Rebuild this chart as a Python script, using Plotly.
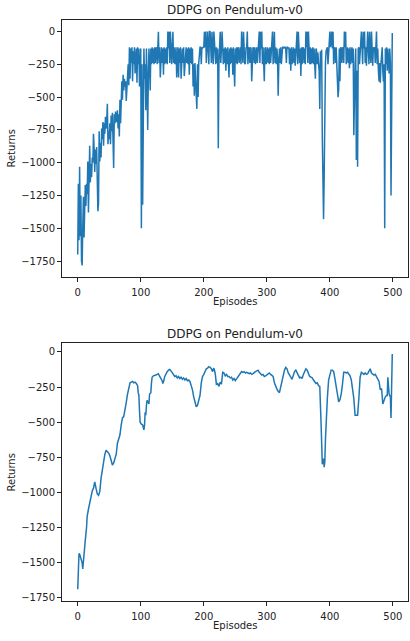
import plotly.graph_objects as go

# Raw returns per episode.
returns = [
    -1700, -1160, -1590, -1030, -1560, -1250, -1750, -1783, -1490, -1260,
    -1570, -1420, -1170, -1330, -1160, -1240, -990, -1380, -1050, -870,
    -1150, -1010, -1110, -960, -1000, -780, -890, -1070, -900, -1010,
    -880, -1060, -1370, -1310, -760, -990, -850, -960, -740, -820,
    -690, -870, -700, -780, -650, -740, -690, -550, -860, -760,
    -820, -700, -860, -640, -760, -620, -880, -1040, -630, -700,
    -610, -690, -660, -600, -740, -630, -800, -520, -700, -460,
    -380, -520, -330, -450, -360, -420, -380, -530, -400, -350,
    -250, -410, -120, -360, -130, -240, -120, -380, -150, -250,
    -120, -320, -250, -130, -390, -120, -250, -130, -420, -250,
    -130, -1500, -250, -1320, -250, -130, -360, -250, -600, -130,
    -350, -750, -360, -130, -250, -450, -130, -250, -120, -240,
    -130, -250, -120, -240, -130, -120, -250, -130, -2, -240,
    -120, -350, -250, -120, -240, -130, -330, -120, -250, -130,
    -240, -120, -250, -1, -130, -3, -240, -1, -120, -250,
    -130, -2, -240, -120, -250, -130, -120, -350, -250, -120,
    -350, -130, -240, -120, -360, -250, -130, -240, -120, -340,
    -250, -130, -120, -240, -130, -250, -120, -330, -130, -240,
    -120, -250, -130, -420, -250, -490, -240, -380, -480, -590,
    -250, -500, -240, -130, -120, -120, -250, -120, -130, -120,
    -120, -2, -120, -1, -240, -130, -1, -120, -250, -1,
    -3, -120, -240, -2, -130, -250, -1, -120, -130, -250,
    -120, -240, -130, -890, -250, -120, -2, -240, -130, -1,
    -120, -250, -130, -240, -120, -300, -130, -250, -120, -240,
    -350, -130, -250, -120, -240, -130, -330, -120, -250, -420,
    -130, -240, -120, -250, -130, -120, -240, -130, -120, -250,
    -1, -120, -240, -2, -130, -250, -240, -120, -130, -1,
    -250, -120, -130, -240, -120, -130, -380, -250, -120, -130,
    -240, -120, -250, -130, -120, -240, -130, -120, -1, -240,
    -2, -130, -1, -250, -120, -240, -380, -130, -120, -250,
    -130, -120, -240, -130, -250, -120, -240, -130, -120, -1,
    -250, -130, -2, -240, -120, -250, -130, -200, -490, -250,
    -130, -240, -120, -250, -130, -120, -120, -130, -120, -120,
    -130, -240, -120, -120, -130, -120, -250, -130, -300, -120,
    -250, -130, -120, -240, -130, -260, -120, -130, -1, -250,
    -2, -120, -240, -130, -340, -120, -250, -130, -120, -240,
    -130, -250, -1, -120, -2, -240, -1, -130, -250, -120,
    -250, -130, -240, -120, -250, -130, -240, -360, -130, -150,
    -250, -160, -240, -300, -590, -150, -250, -140, -800, -1200,
    -1430, -1100, -505, -240, -150, -130, -120, -250, -120, -130,
    -1, -120, -2, -1, -130, -3, -250, -120, -130, -240,
    -120, -250, -400, -500, -440, -130, -380, -120, -130, -240,
    -120, -130, -240, -1, -120, -2, -250, -130, -120, -240,
    -130, -280, -120, -250, -130, -120, -240, -130, -790, -250,
    -250, -130, -980, -300, -1030, -130, -120, -250, -130, -120,
    -1, -120, -250, -2, -130, -1, -240, -120, -260, -130,
    -1, -120, -250, -2, -130, -240, -1, -120, -260, -120,
    -130, -120, -240, -120, -1, -250, -130, -300, -380, -240,
    -390, -250, -130, -120, -300, -380, -250, -1500, -130, -250,
    -120, -300, -130, -250, -320, -130, -240, -1250, -130, -12,
]
episodes = list(range(len(returns)))

# Smoothed returns.
smooth_episodes = [
    0, 1, 2, 3, 5, 7, 8, 9, 10, 12, 14, 15, 17, 19, 21, 23, 25, 27, 29, 31,
    33, 35, 37, 39, 41, 43, 45, 47, 49, 51, 53, 55, 57, 59, 61, 63, 65, 67, 69, 71,
    73, 75, 77, 79, 81, 83, 85, 87, 89, 91, 93, 95, 96, 97, 98, 99, 101, 103, 105, 106,
    107, 108, 109, 110, 112, 113, 114, 116, 117, 118, 120, 122, 124, 126, 128, 130, 132, 134, 135, 136,
    138, 140, 142, 144, 146, 148, 150, 152, 154, 156, 158, 160, 162, 164, 166, 168, 170, 172, 174, 176,
    178, 180, 182, 184, 186, 188, 190, 192, 194, 196, 198, 200, 202, 204, 206, 208, 210, 212, 214, 216,
    218, 220, 222, 224, 226, 228, 230, 232, 234, 236, 238, 240, 242, 244, 246, 248, 250, 252, 254, 256,
    258, 260, 262, 264, 266, 268, 270, 272, 274, 276, 278, 280, 282, 284, 286, 288, 290, 292, 294, 296,
    298, 300, 302, 304, 306, 308, 310, 312, 314, 316, 318, 320, 322, 324, 326, 328, 330, 332, 334, 336,
    338, 340, 342, 344, 346, 348, 350, 352, 354, 356, 358, 360, 362, 364, 366, 368, 370, 372, 374, 376,
    378, 380, 382, 384, 385, 386, 388, 390, 391, 392, 393, 394, 396, 398, 400, 402, 404, 406, 408, 410,
    412, 414, 416, 418, 420, 422, 424, 426, 428, 430, 432, 434, 436, 438, 440, 442, 444, 446, 448, 450,
    452, 454, 456, 458, 460, 462, 464, 466, 468, 470, 472, 474, 476, 478, 480, 482, 484, 486, 488, 490,
    491, 492, 493, 494, 496, 497, 499,
]
smooth_returns = [
    -1690, -1540, -1435, -1440, -1470, -1500, -1545, -1480, -1440, -1340, -1250, -1170, -1120, -1070, -1050, -990, -970, -925, -970, -1010,
    -1020, -995, -900, -830, -800, -730, -700, -710, -720, -740, -770, -805, -790, -760, -730, -650, -610, -590, -520, -470,
    -460, -390, -360, -300, -250, -220, -215, -210, -220, -215, -225, -240, -290, -310, -420, -500, -515, -520, -555, -520,
    -430, -450, -380, -345, -360, -370, -300, -290, -220, -180, -170, -170, -165, -160, -155, -175, -190, -205, -225, -215,
    -175, -155, -140, -130, -125, -135, -150, -160, -175, -170, -185, -175, -190, -180, -195, -185, -200, -190, -205, -200,
    -210, -240, -270, -320, -350, -390, -380, -340, -310, -220, -175, -160, -140, -120, -115, -105, -110, -120, -140, -115,
    -150, -230, -225, -245, -215, -230, -145, -150, -170, -160, -175, -175, -185, -180, -200, -190, -205, -190, -180, -170,
    -150, -140, -145, -140, -150, -145, -150, -155, -150, -160, -155, -145, -140, -135, -130, -145, -155, -165, -160, -175,
    -170, -165, -155, -150, -160, -170, -175, -220, -250, -265, -280, -290, -250, -200, -160, -130, -110, -120, -150, -170,
    -180, -195, -160, -140, -130, -145, -160, -185, -180, -190, -160, -140, -120, -130, -160, -175, -180, -185, -200, -215,
    -225, -220, -240, -245, -330, -500, -800, -760, -820, -780, -620, -470, -330, -200, -150, -130, -130, -140, -190, -240,
    -300, -355, -340, -300, -230, -145, -145, -150, -145, -160, -170, -200, -270, -330, -450, -450, -450, -330, -180, -145,
    -155, -160, -150, -160, -155, -135, -120, -150, -155, -165, -160, -175, -190, -210, -270, -260, -370, -340, -320, -310,
    -310, -180, -300, -300, -320, -470, -15,
]

title = "DDPG on Pendulum-v0"
line_color = "#1f77b4"
font_family = "DejaVu Sans"

fig = go.Figure()
fig.add_trace(go.Scatter(x=episodes, y=returns, mode="lines",
                         line=dict(color=line_color, width=1.5),
                         xaxis="x", yaxis="y", showlegend=False))
fig.add_trace(go.Scatter(x=smooth_episodes, y=smooth_returns, mode="lines",
                         line=dict(color=line_color, width=1.5),
                         xaxis="x2", yaxis="y2", showlegend=False))

# Matplotlib-like axis look.
axis_style = dict(
    showline=True, mirror=True, linecolor="#222222", linewidth=1,
    ticks="outside", ticklen=4, tickwidth=1, tickcolor="#222222",
    showgrid=False, zeroline=False,
    tickfont=dict(size=10, color="#222222", family=font_family),
)
x_dom = [62 / 410, 408 / 410]

fig.update_layout(
    width=410, height=641,
    margin=dict(l=0, r=0, t=0, b=0),
    paper_bgcolor="white", plot_bgcolor="white",
    font=dict(family=font_family, size=10, color="#222222"),
    xaxis=dict(domain=x_dom, anchor="y", range=[-24.95, 523.95], dtick=100, tick0=0,
               ticklabelstandoff=2, **axis_style),
    yaxis=dict(domain=[1 - 278 / 641, 1 - 20 / 641], anchor="x", range=[-1872, 88], dtick=250, tick0=0,
               **axis_style),
    xaxis2=dict(domain=x_dom, anchor="y2", range=[-24.95, 523.95], dtick=100, tick0=0,
                ticklabelstandoff=2, **axis_style),
    yaxis2=dict(domain=[1 - 603 / 641, 1 - 344 / 641], anchor="x2", range=[-1774, 64], dtick=250, tick0=0,
                **axis_style),
)

# Titles and axis labels (anchored at their centres).
x_mid = (x_dom[0] + x_dom[1]) / 2
for title_y, xlab_y, ylab_y in [(10, 302, 149), (335, 627, 474)]:
    fig.add_annotation(text=title, x=x_mid, y=1 - title_y / 641, xref="paper", yref="paper",
                       xanchor="center", yanchor="middle", showarrow=False,
                       font=dict(size=12, family=font_family, color="#222222"))
    fig.add_annotation(text="Episodes", x=x_mid, y=1 - xlab_y / 641, xref="paper", yref="paper",
                       xanchor="center", yanchor="middle", showarrow=False,
                       font=dict(size=10, family=font_family, color="#222222"))
    fig.add_annotation(text="Returns", x=12 / 410, y=1 - ylab_y / 641, xref="paper", yref="paper",
                       xanchor="center", yanchor="middle", textangle=-90, showarrow=False,
                       font=dict(size=10, family=font_family, color="#222222"))

# Drop the page margin so the 410x641 figure sits flush in the window.
fig.write_html("out.html", config={"displayModeBar": False},
               post_script="document.body.style.margin='0';")
